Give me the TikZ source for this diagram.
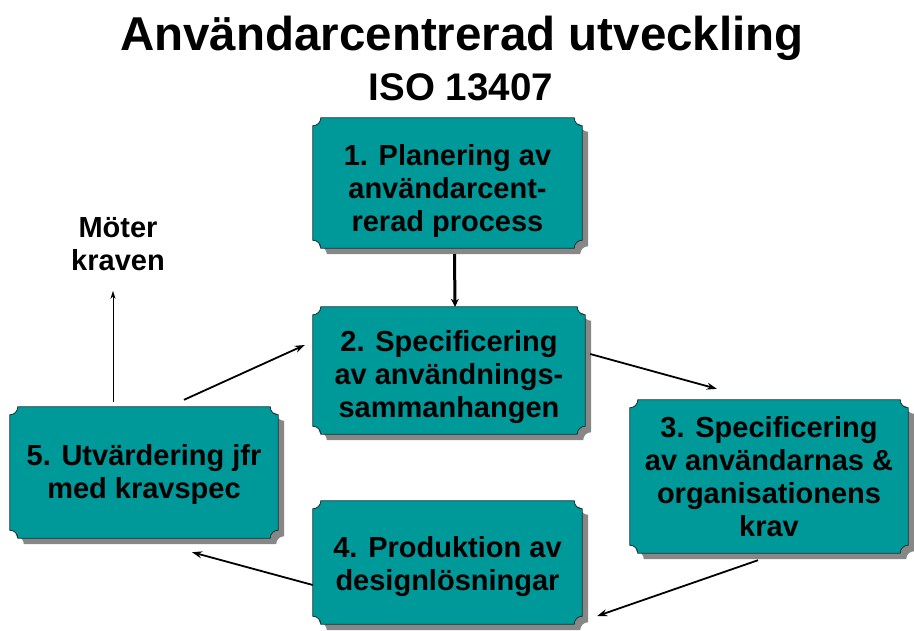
\documentclass[tikz,border=0pt]{standalone}
\usepackage{fontspec}
\setmainfont{Liberation Sans}
\usetikzlibrary{calc,arrows.meta}
\pgfdeclarelayer{background}
\pgfsetlayers{background,main}
\definecolor{boxteal}{RGB}{0,153,153}
\definecolor{boxshadow}{RGB}{135,135,135}
\definecolor{boxedge}{RGB}{20,50,50}
\def\plaquer{8}
% strut on a first line that pushes a text block down
\newcommand\toppad[1]{\rule{0pt}{#1pt}}
% outline with concave corners round node #1, shifted by (#2,#3), styled #4
\newcommand\plaqueoutline[4]{%
  \path[#4]
    ($(#1.north west)+(#2,#3-\plaquer)$) arc[start angle=270,end angle=360,radius=\plaquer]
    -- ($(#1.north east)+(#2-\plaquer,#3)$) arc[start angle=180,end angle=270,radius=\plaquer]
    -- ($(#1.south east)+(#2,#3+\plaquer)$) arc[start angle=90,end angle=180,radius=\plaquer]
    -- ($(#1.south west)+(#2+\plaquer,#3)$) arc[start angle=0,end angle=90,radius=\plaquer]
    -- cycle;}
% plaque with drop shadow behind node #1
\newcommand\plaque[1]{%
  \begin{pgfonlayer}{background}
    \plaqueoutline{#1}{6}{-6}{plaqueshadow}
    \plaqueoutline{#1}{0}{0}{plaquebody}
  \end{pgfonlayer}}
\begin{document}
\begin{tikzpicture}[x=1pt,y=1pt,
  plaqueshadow/.style={fill=boxshadow},
  plaquebody/.style={fill=boxteal,draw=boxedge,line width=0.8pt},
  stage/.style={align=center,inner sep=0pt,
    font=\bfseries\fontsize{29}{33}\selectfont},
  flow/.style={line width=1.8pt,-{Stealth[length=10pt,width=7pt]}},
  heavyflow/.style={line width=3pt,-{Stealth[length=8pt,width=8pt]}},
  thinflow/.style={line width=1pt,-{Stealth[length=8pt,width=5pt]}}]
\useasboundingbox (0,0) rectangle (914,-630);

% headings
\node[anchor=base,font=\bfseries\fontsize{47.5}{50}\selectfont] (title) at (462,-50) {Användarcentrerad utveckling};
\node[anchor=base,font=\bfseries\fontsize{38.5}{40}\selectfont] (iso) at (461,-100) {ISO 13407};

% process stages
\node[stage,minimum width=269,minimum height=130] (b1) at (447.5,-183) {\toppad{37}1. Planering av\\användarcent-\\rerad process};
\node[stage,minimum width=272,minimum height=127] (b2) at (449,-370.5) {\toppad{35}2. Specificering\\av användnings-\\sammanhangen};
\node[stage,minimum width=278,minimum height=153] (b3) at (769,-476.5) {3. Specificering\\av användarnas \&\\organisationens\\krav};
\node[stage,minimum width=269,minimum height=123] (b4) at (447.5,-562.5) {\toppad{29}4. Produktion av\\designlösningar};
\node[stage,minimum width=268,minimum height=131] (b5) at (144,-472.5) {\toppad{25}5. Utvärdering jfr\\med kravspec};
\node[stage] (meets) at (118,-244) {Möter\\kraven};

\plaque{b1}\plaque{b2}\plaque{b3}\plaque{b4}\plaque{b5}

% connectors
\draw[heavyflow] ($(b1.south)+(7,-6)$) -- ($(b2.north)+(6,0)$);
\draw[flow] ($(b5.north)+(40,7)$) -- ($(b2.west)+(-8,25.5)$);
\draw[flow] ($(b2.east)+(5,16.5)$) -- ($(b3.north west)+(87,11)$);
\draw[flow] ($(b3.south)+(-11,-7)$) -- ($(b4.east)+(15,-53.5)$);
\draw[flow] ($(b4.west)+(0,-22.5)$) -- ($(b5.south)+(48,-14)$);
\draw[thinflow] ($(b5.north)+(-31,5)$) -- ($(meets.south)+(-5,-20)$);
\end{tikzpicture}
\end{document}
